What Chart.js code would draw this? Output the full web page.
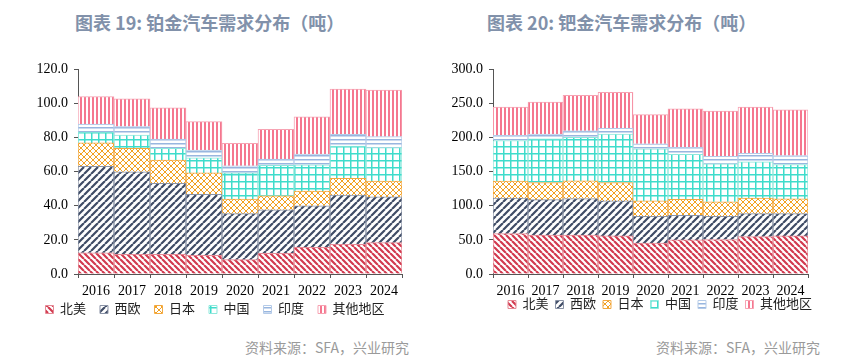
<!DOCTYPE html>
<html>
<head>
<meta charset="utf-8">
<script src="https://cdn.jsdelivr.net/npm/chart.js@4.4.1/dist/chart.umd.min.js"></script>
<style>
    body { margin: 0; width: 855px; height: 362px; overflow: hidden; background: #fff; position: relative; font-family: 'Noto Sans CJK SC', sans-serif; }
    .title { position: absolute; top: 9px; font-size: 18px; font-weight: bold; color: #8191aa; white-space: nowrap; }
    .src { position: absolute; top: 337px; font-size: 14px; color: #9a9a9a; white-space: nowrap; }
    .box { position: absolute; top: 55px; height: 276px; }
</style>
</head>
<body>
<div class="title" style="left:75px">图表 19: 铂金汽车需求分布（吨）</div>
<div class="title" style="left:487px">图表 20: 钯金汽车需求分布（吨）</div>
<div class="box" style="left:0; width:430px"><canvas id="grafic1"></canvas></div>
<div class="box" style="left:440px; width:440px"><canvas id="grafic2"></canvas></div>
<div class="src" style="left:245px">资料来源：SFA，兴业研究</div>
<div class="src" style="left:656px">资料来源：SFA，兴业研究</div>

<script>
const years = ['2016', '2017', '2018', '2019', '2020', '2021', '2022', '2023', '2024'];
const regions = ['北美', '西欧', '日本', '中国', '印度', '其他地区'];

// === 铂金 (吨) ===
const ptNorthAmerica = [12.4, 11.5, 11.5, 10.9, 8.4, 12.1, 15.7, 17.4, 18.4];
const ptWestEurope   = [50.8, 48.4, 41.7, 35.8, 27.0, 25.6, 24.3, 28.9, 26.8];
const ptJapan        = [13.7, 13.8, 13.6, 12.6, 8.6, 8.2, 8.6, 9.8, 9.3];
const ptChina        = [6.4, 7.8, 6.9, 8.8, 15.3, 17.8, 15.5, 18.9, 19.6];
const ptIndia        = [4.7, 5.0, 5.5, 4.6, 4.2, 3.7, 6.3, 6.9, 6.5];
const ptOther        = [16.1, 16.3, 18.2, 16.7, 13.2, 17.4, 21.8, 26.6, 27.2];

// === 钯金 (吨) ===
const pdNorthAmerica = [59.1, 57.2, 57.2, 55.8, 45.2, 50.0, 50.5, 54.8, 55.8];
const pdWestEurope   = [52.4, 51.9, 53.4, 51.4, 39.4, 36.1, 34.1, 33.7, 32.7];
const pdJapan        = [24.6, 25.0, 25.9, 26.9, 22.6, 23.5, 21.2, 23.0, 21.6];
const pdChina        = [59.6, 64.0, 64.0, 71.2, 76.5, 65.9, 55.7, 52.9, 50.5];
const pdIndia        = [7.7, 7.2, 9.6, 8.2, 7.2, 10.1, 11.1, 12.5, 13.0];
const pdOther        = [41.3, 46.6, 51.9, 52.8, 42.8, 56.7, 66.3, 67.8, 67.3];

const ptTicks = [0, 20, 40, 60, 80, 100, 120];
const pdTicks = [0, 50, 100, 150, 200, 250, 300];

// штрихування для сегментів
function makePattern(kind, color) {
    const size = { down: 6, up: 7, cross: 6, grid: 7, hline: 4, vline: 4 }[kind];
    const c = document.createElement('canvas');
    c.width = size;
    c.height = size;
    const g = c.getContext('2d');
    g.fillStyle = '#fff';
    g.fillRect(0, 0, size, size);
    g.strokeStyle = color;
    g.fillStyle = color;
    if (kind === 'down' || kind === 'up' || kind === 'cross') {
        g.lineWidth = kind === 'cross' ? 1 : 2.2;
        g.beginPath();
        for (let k = -1; k <= 1; k++) {
            if (kind !== 'up') { g.moveTo(k * size, 0); g.lineTo(k * size + size, size); }
            if (kind !== 'down') { g.moveTo(k * size, size); g.lineTo(k * size + size, 0); }
        }
        g.stroke();
    } else if (kind === 'grid') {
        g.fillRect(0, 0, size, 1.5);
        g.fillRect(0, 0, 1.5, size);
    } else if (kind === 'hline') {
        g.fillRect(0, 0, size, 1.5);
    } else {
        g.fillRect(0, 0, 2, size);
    }
    return g.createPattern(c, 'repeat');
}

const styles = [
    { kind: 'down', color: '#d23a4f', border: '#e58a96' },
    { kind: 'up', color: '#3f4c66', border: '#8a93a6' },
    { kind: 'cross', color: '#f2a122', border: '#f2a840' },
    { kind: 'grid', color: '#3edccb', border: '#8ee8dc' },
    { kind: 'hline', color: '#98b6df', border: '#b5cbe8' },
    { kind: 'vline', color: '#f5778f', border: '#f7a3b3' },
];

// фіксована висота легенди + зсув угору
const legendHeight = {
    id: 'legendHeight',
    afterInit(chart, args, opts) {
        const legend = chart.legend;
        const fit = legend.fit;
        legend.fit = function () {
            fit.call(this);
            this.height = opts.height;
        };
    },
    afterLayout(chart, args, opts) {
        chart.legend.top -= opts.shift;
        chart.legend.bottom -= opts.shift;
    }
};

function buildDatasets(series) {
    return series.map((values, i) => ({
        label: regions[i],
        data: values,
        backgroundColor: makePattern(styles[i].kind, styles[i].color),
        borderColor: styles[i].border,
        borderWidth: 1,
        barPercentage: 1,
        categoryPercentage: 1
    }));
}

function buildChart(canvasId, series, ticks, yWidth, rightWidth, legendPad, legendShift) {
    const axisColor = '#555';
    return new Chart(document.getElementById(canvasId).getContext('2d'), {
        type: 'bar',
        data: {
            labels: years,
            datasets: buildDatasets(series)
        },
        plugins: [legendHeight],
        options: {
            responsive: true,
            maintainAspectRatio: false,
            animation: false,
            layout: { padding: { top: 10, left: 0, right: 0, bottom: 0 } },
            plugins: {
                tooltip: { enabled: false },
                legendHeight: { height: 35, shift: legendShift },
                legend: {
                    position: 'bottom',
                    labels: {
                        boxWidth: 8,
                        boxHeight: 8,
                        padding: legendPad,
                        color: '#222',
                        font: { family: "'Liberation Serif', 'Noto Sans CJK SC'", size: 13 }
                    }
                }
            },
            scales: {
                x: {
                    stacked: true,
                    grid: { drawOnChartArea: false, drawTicks: true, tickLength: 4, color: axisColor },
                    border: { color: axisColor },
                    ticks: {
                        color: '#000',
                        padding: 5,
                        maxRotation: 0,
                        font: { family: "'Liberation Serif'", size: 14 }
                    },
                    afterFit: s => { s.height = 22; }
                },
                y: {
                    stacked: true,
                    min: ticks[0],
                    max: ticks[ticks.length - 1],
                    afterBuildTicks: s => { s.ticks = ticks.map(v => ({ value: v })); },
                    grid: { drawOnChartArea: false, drawTicks: true, tickLength: 4, color: axisColor },
                    border: { color: axisColor },
                    ticks: {
                        color: '#000',
                        padding: 6,
                        font: { family: "'Liberation Serif'", size: 14 },
                        callback: v => v.toFixed(1)
                    },
                    afterFit: s => { s.width = yWidth; }
                },
                y2: {
                    position: 'right',
                    grid: { display: false },
                    border: { display: false },
                    ticks: { display: false },
                    afterFit: s => { s.width = rightWidth; }
                }
            }
        }
    });
}

// === ГРАФІК 1: 铂金 ===
buildChart('grafic1',
    [ptNorthAmerica, ptWestEurope, ptJapan, ptChina, ptIndia, ptOther],
    ptTicks, 78, 28, 14, 7);

// === ГРАФІК 2: 钯金 ===
buildChart('grafic2',
    [pdNorthAmerica, pdWestEurope, pdJapan, pdChina, pdIndia, pdOther],
    pdTicks, 53, 72, 7, 5);
</script>
</body>
</html>
